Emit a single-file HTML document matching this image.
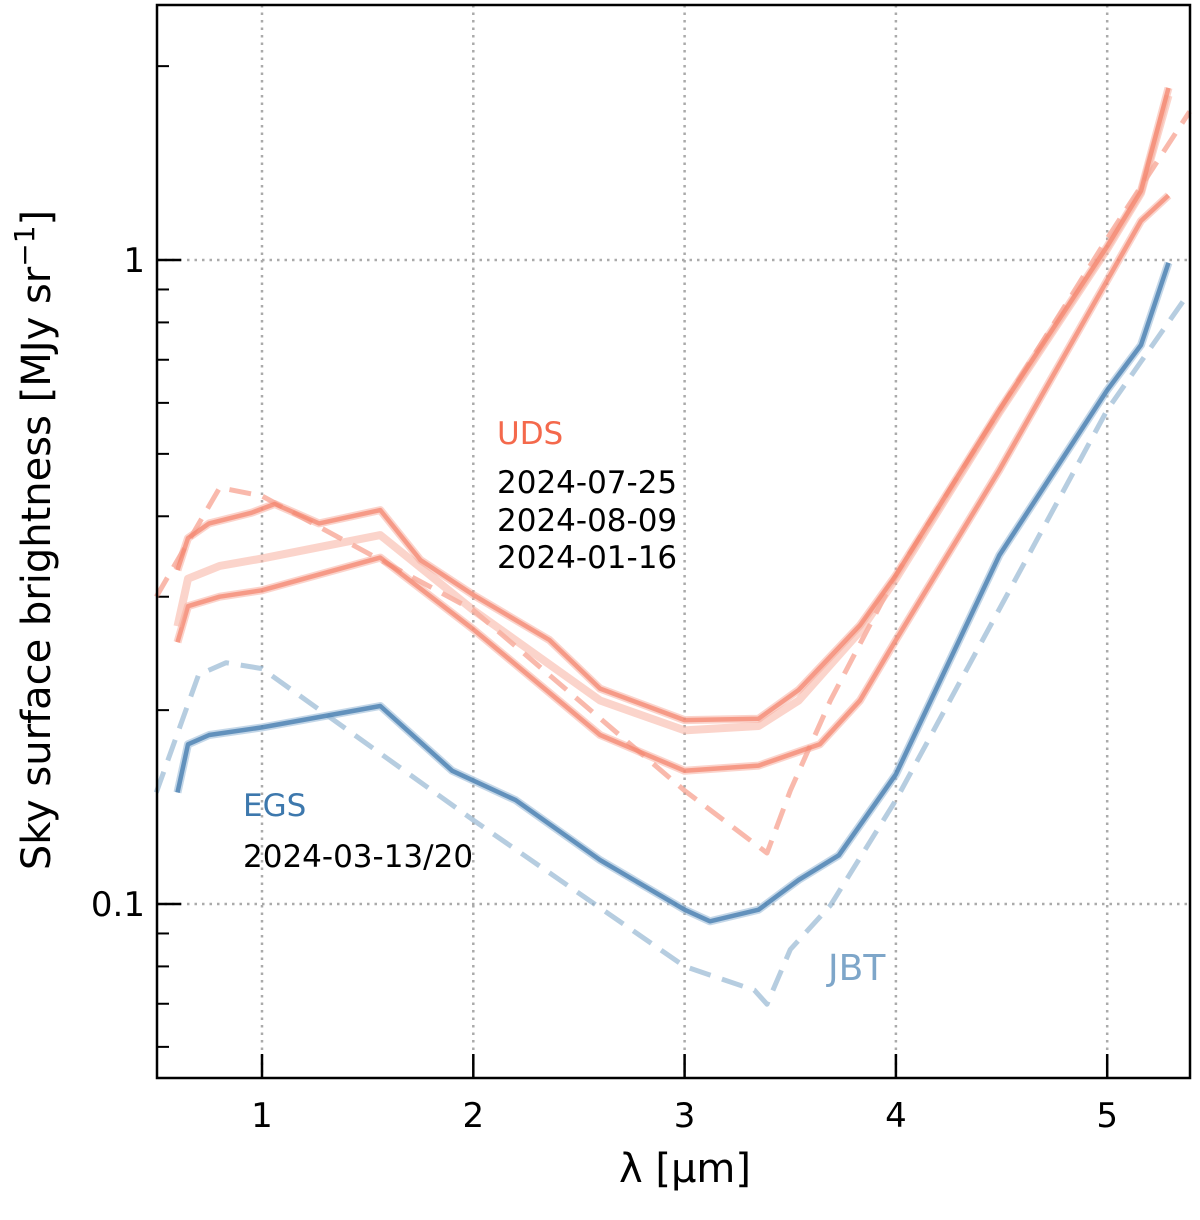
<!DOCTYPE html>
<html><head><meta charset="utf-8"><style>
body{margin:0;background:#fff}
svg text{font-family:"DejaVu Sans","Liberation Sans",sans-serif}
</style></head><body>
<svg id="c" width="1200" height="1215" xmlns="http://www.w3.org/2000/svg"></svg>
<script>
const xTicks=[1,2,3,4,5];
const yMajor=[0.1,1];
const yMinor=[0.06,0.07,0.08,0.09,0.2,0.3,0.4,0.5,0.6,0.7,0.8,0.9,2];
const udsJbtL=[0.5,0.8,1.0,2.0,3.0,3.39,3.5,3.69,4.0,5.0,5.39];
const udsJbtV=[0.30,0.443,0.43,0.286,0.150,0.120,0.150,0.207,0.324,1.08,1.70];
const egsJbtL=[0.5,0.7,0.83,1.0,2.0,3.0,3.33,3.39,3.5,3.69,4.0,5.0,5.39];
const egsJbtV=[0.149,0.227,0.237,0.232,0.135,0.080,0.0735,0.0699,0.085,0.0995,0.145,0.585,0.892];
const egsL=[0.6,0.65,0.75,1.0,1.56,1.9,2.2,2.6,3.0,3.12,3.35,3.54,3.73,4.0,4.49,5.0,5.16,5.29];
const egsV=[0.149,0.177,0.183,0.188,0.203,0.161,0.145,0.117,0.098,0.094,0.098,0.109,0.119,0.159,0.348,0.628,0.738,0.99];
const uds1L=[0.6,0.65,0.75,0.95,1.06,1.27,1.56,1.75,2.0,2.36,2.6,3.0,3.35,3.54,3.83,4.0,4.49,5.0,5.16,5.29];
const uds1V=[0.33,0.37,0.39,0.405,0.418,0.39,0.409,0.342,0.302,0.257,0.216,0.193,0.194,0.215,0.271,0.324,0.585,1.05,1.28,1.85];
const uds2L=[0.6,0.65,0.8,1.0,1.56,2.0,2.6,3.0,3.35,3.54,3.83,4.0,4.49,5.0,5.16,5.29];
const uds2V=[0.27,0.32,0.335,0.344,0.374,0.286,0.207,0.186,0.189,0.207,0.265,0.32,0.58,1.04,1.27,1.8];
const uds3L=[0.6,0.65,0.8,1.0,1.56,2.0,2.6,3.0,3.35,3.64,3.83,4.0,4.49,5.0,5.16,5.29];
const uds3V=[0.255,0.29,0.30,0.307,0.345,0.267,0.183,0.161,0.164,0.177,0.207,0.257,0.472,0.93,1.15,1.26];

const L=157,R=1190,T=5,B=1078;
const X=l=>262+(l-1)*211.3;
const Y=v=>260-Math.log10(v)*644;
const svg=document.getElementById('c');
const NS='http://www.w3.org/2000/svg';
function mk(t,a,p){const e=document.createElementNS(NS,t);for(const k in a)e.setAttribute(k,a[k]);(p||svg).appendChild(e);return e;}

xTicks.forEach(t=>{
 const g=mk('line',{x1:X(t),x2:X(t),y1:T,y2:B,stroke:'#aaa','stroke-width':2.5,'stroke-dasharray':'2.5,5'});
 
 
 const k=mk('line',{x1:X(t),x2:X(t),y1:B,y2:B-24,stroke:'#000','stroke-width':2.5});
 
 
 const tx=mk('text',{x:X(t),y:1127,'font-size':34,'text-anchor':'middle'});tx.textContent=t;
 
 
});
yMajor.forEach(v=>{
 const g=mk('line',{x1:L,x2:R,y1:Y(v),y2:Y(v),stroke:'#aaa','stroke-width':2.5,'stroke-dasharray':'2.5,5'});
 
 
 const k=mk('line',{x1:L,x2:L+24,y1:Y(v),y2:Y(v),stroke:'#000','stroke-width':2.5});
 
 
 const tx=mk('text',{x:145,y:Y(v)+12,'font-size':34,'text-anchor':'end'});tx.textContent=v;
 
 
});
yMinor.forEach(v=>{
 const k=mk('line',{x1:L,x2:L+12,y1:Y(v),y2:Y(v),stroke:'#000','stroke-width':2});
 
 
});
function line(Ls,Vs,col,w,op,dash,name){
 const d=Ls.map((l,i)=>(i?'L':'M')+X(l).toFixed(1)+','+Y(Vs[i]).toFixed(1)).join(' ');
 const p=mk('path',{d:d,fill:'none',stroke:col,'stroke-width':w,'stroke-opacity':op,'stroke-linejoin':'round','stroke-linecap':'butt'});
 if(dash)p.setAttribute('stroke-dasharray',dash);
 
 
}
line(udsJbtL,udsJbtV,'#f58b74',5,0.6,'22,12','uds-jbt-model');
line(egsJbtL,egsJbtV,'#8fb2d0',5,0.65,'22,12','egs-jbt-model');
line(egsL,egsV,'#9dbcd8',8,0.6,null,'egs-spectrum-light');
line(egsL,egsV,'#4a80b0',4.5,0.8,null,'egs-spectrum');
line(uds3L,uds3V,'#f8a898',8,0.5,null,'uds-spectrum-3-light');
line(uds3L,uds3V,'#f4826a',4.5,0.7,null,'uds-spectrum-3');
line(uds2L,uds2V,'#f8b0a0',8,0.55,null,'uds-spectrum-2');
line(uds1L,uds1V,'#f8a898',8,0.5,null,'uds-spectrum-1-light');
line(uds1L,uds1V,'#f4826a',4.5,0.7,null,'uds-spectrum-1');

const fr=mk('rect',{x:L,y:T,width:R-L,height:B-T,fill:'none',stroke:'#000','stroke-width':2.5});


function txt(s,x,y,size,col,name,extra){const t=mk('text',Object.assign({x:x,y:y,'font-size':size,fill:col},extra||{}));t.textContent=s;
 
 return t;}
txt('UDS',497,444,31,'#f4694c','uds-label');
txt('2024-07-25',497,493,31,'#000','uds-date-1');
txt('2024-08-09',497,531,31,'#000','uds-date-2');
txt('2024-01-16',497,568,31,'#000','uds-date-3');
txt('EGS',243,816,31,'#3d78ad','egs-label');
txt('2024-03-13/20',243,867,31,'#000','egs-date');
txt('JBT',828,980,36,'#7ea6c9','jbt-label');
txt('λ [μm]',685,1182,40,'#000','x-axis-title',{'text-anchor':'middle'});
const yt=mk('text',{x:0,y:0,'font-size':40,'text-anchor':'middle',transform:'translate(50,540) rotate(-90)'});
yt.innerHTML='Sky surface brightness [MJy sr<tspan dy="-16" font-size="28">−1</tspan><tspan dy="16">]</tspan>';


</script>
</body></html>
